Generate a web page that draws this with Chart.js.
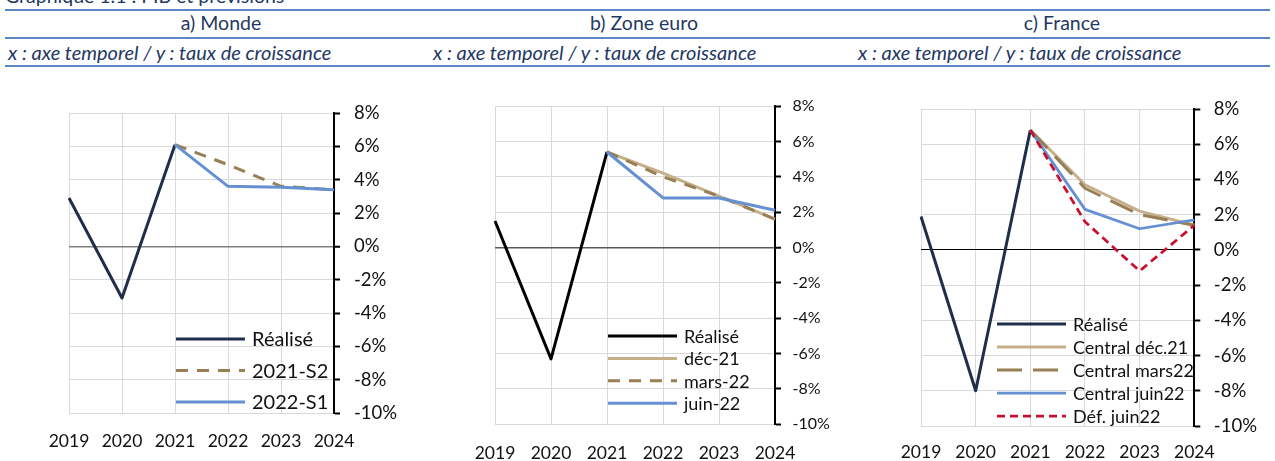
<!DOCTYPE html>
<html>
<head>
<meta charset="utf-8">
<script src="https://cdn.jsdelivr.net/npm/chart.js@4.4.1/dist/chart.umd.min.js"></script>
<style>
  body { margin:0; width:1275px; height:461px; overflow:hidden; background:#fff; position:relative; font-family:Lato, sans-serif; }
  .rule { position:absolute; left:5px; width:1265px; height:2px; background:#5b87c6; }
  .hd { position:absolute; color:#1f3864; font-size:19.5px; white-space:nowrap; line-height:22px; }
  .sub { font-style:italic; font-size:20px; }
  .panel { position:absolute; top:80px; width:425px; height:381px; }
</style>
</head>
<body>
<div class="hd" style="left:5px;top:-15px;">Graphique 1.1 : PIB et prévisions</div>
<div class="rule" style="top:9px"></div>
<div class="hd" style="left:0;width:442px;top:12px;text-align:center;">a) Monde</div>
<div class="hd" style="left:434px;width:420px;top:12px;text-align:center;">b) Zone euro</div>
<div class="hd" style="left:860px;width:404px;top:12px;text-align:center;">c) France</div>
<div class="rule" style="top:37px"></div>
<div class="hd sub" style="left:8px;top:41px;">x : axe temporel / y : taux de croissance</div>
<div class="hd sub" style="left:433px;top:41px;">x : axe temporel / y : taux de croissance</div>
<div class="hd sub" style="left:858px;top:41px;">x : axe temporel / y : taux de croissance</div>
<div class="rule" style="top:65px"></div>

<div class="panel" style="left:0"><canvas id="monde" width="425" height="381"></canvas></div>
<div class="panel" style="left:425px"><canvas id="zone" width="425" height="381"></canvas></div>
<div class="panel" style="left:850px"><canvas id="france" width="425" height="381"></canvas></div>

<script>
const years = ["2019", "2020", "2021", "2022", "2023", "2024"];

// a) Monde
const mondeRealise = [2.9, -3.1, 6.1, null, null, null];
const monde2021S2  = [null, null, 6.1, 4.9, 3.6, 3.4];
const monde2022S1  = [null, null, 6.1, 3.6, 3.55, 3.4];

// b) Zone euro
const zoneRealise = [1.5, -6.3, 5.4, null, null, null];
const zoneDec21   = [null, null, 5.4, 4.2, 2.9, 1.6];
const zoneMars22  = [null, null, 5.4, 4.0, 2.9, 1.6];
const zoneJuin22  = [null, null, 5.4, 2.8, 2.8, 2.1];

// c) France
const frRealise   = [1.9, -8.0, 6.8, null, null, null];
const frDec21     = [null, null, 6.8, 3.7, 2.2, 1.4];
const frMars22    = [null, null, 6.8, 3.5, 2.0, 1.4];
const frJuin22    = [null, null, 6.8, 2.3, 1.2, 1.7];
const frDefJuin22 = [null, null, 6.8, 1.6, -1.2, 1.4];

const yMin = -10, yMax = 8, yStep = 2;

const NAVY = "#1f2e4b", TAN = "#c6b08c", BROWN = "#987f55", BLUE = "#6590d2", RED = "#c8102e";

// legend drawn inside the plot, one row per dataset
const insideLegend = {
  id: "insideLegend",
  afterDraw(chart, args, o) {
    const ctx = chart.ctx;
    ctx.save();
    ctx.font = o.fontSize + "px Lato";
    ctx.textBaseline = "middle";
    ctx.textAlign = "left";
    chart.data.datasets.forEach((ds, i) => {
      const y = o.y + i * o.rowHeight;
      ctx.beginPath();
      ctx.strokeStyle = ds.borderColor;
      ctx.lineWidth = ds.borderWidth;
      ctx.setLineDash(ds.borderDash || []);
      ctx.moveTo(o.x, y);
      ctx.lineTo(o.x + o.lineLength, y);
      ctx.stroke();
      ctx.setLineDash([]);
      ctx.fillStyle = "#111";
      ctx.fillText(ds.label, o.x + o.lineLength + o.gap, y + 1);
    });
    ctx.restore();
  }
};

function line(label, data, color, width, dash) {
  return { label, data, borderColor: color, backgroundColor: color, borderWidth: width,
           borderDash: dash || [], pointRadius: 0, tension: 0, fill: false,
           borderJoinStyle: "round", borderCapStyle: "butt" };
}

function makeChart(id, datasets, c) {
  datasets.forEach((ds, i) => ds.order = datasets.length - i);
  new Chart(document.getElementById(id), {
    type: "line",
    data: { labels: years, datasets },
    plugins: [insideLegend],
    options: {
      responsive: false,
      animation: false,
      devicePixelRatio: 1,
      layout: { padding: c.padding },
      plugins: {
        legend: { display: false },
        tooltip: { enabled: false },
        insideLegend: c.legend
      },
      scales: {
        x: {
          offset: false,
          grid: { color: "#d9d9d9", lineWidth: 1, drawTicks: false, offset: false },
          border: { display: false },
          ticks: { color: "#111", padding: c.xPad, maxRotation: 0, autoSkip: false,
                   font: { family: "Lato", size: c.xFont } },
          afterFit: s => { s.height = c.xHeight; }
        },
        y: {
          position: "right",
          min: yMin, max: yMax,
          grid: {
            color: ctx => ctx.tick && ctx.tick.value === 0 ? c.zeroColor : "#d9d9d9",
            lineWidth: ctx => ctx.tick && ctx.tick.value === 0 ? c.zeroWidth : 1,
            tickColor: "#000", tickWidth: 2, tickLength: 6
          },
          border: { display: true, color: "#000", width: 2 },
          ticks: { stepSize: yStep, color: "#111", padding: c.yPad,
                   font: { family: "Lato", size: c.yFont },
                   callback: v => v + "%" },
          afterFit: s => { s.width = c.yWidth; }
        }
      }
    }
  });
}

makeChart("monde", [
  line("Réalisé", mondeRealise, NAVY, 3),
  line("2021-S2", monde2021S2, BROWN, 3, [12, 9]),
  line("2022-S1", monde2022S1, BLUE, 3)
], {
  padding: { left: 69, top: 33, right: 11, bottom: 0 },
  yWidth: 80, xHeight: 48, xPad: 18, yPad: 14, xFont: 17.5, yFont: 18.5,
  zeroColor: "#7f7f7f", zeroWidth: 1.5,
  legend: { x: 176, y: 259, rowHeight: 31.5, lineLength: 69, gap: 7, fontSize: 20 }
});

makeChart("zone", [
  line("Réalisé", zoneRealise, "#000", 3),
  line("déc-21", zoneDec21, TAN, 3),
  line("mars-22", zoneMars22, BROWN, 3, [12, 9]),
  line("juin-22", zoneJuin22, BLUE, 3)
], {
  padding: { left: 70, top: 26, right: 5, bottom: 0 },
  yWidth: 70, xHeight: 36.7, xPad: 18.5, yPad: 11.5, xFont: 17.5, yFont: 16,
  zeroColor: "#595959", zeroWidth: 1.5,
  legend: { x: 183, y: 256, rowHeight: 22.4, lineLength: 69, gap: 7, fontSize: 18 }
});

makeChart("france", [
  line("Réalisé", frRealise, NAVY, 3),
  line("Central déc.21", frDec21, TAN, 3),
  line("Central mars22", frMars22, BROWN, 3, [25, 11]),
  line("Central juin22", frJuin22, BLUE, 2.75),
  line("Déf. juin22", frDefJuin22, RED, 2.75, [8, 5])
], {
  padding: { left: 71, top: 29, right: 2, bottom: 0 },
  yWidth: 78.7, xHeight: 35, xPad: 15.5, yPad: 13.5, xFont: 17.5, yFont: 18.5,
  zeroColor: "#000", zeroWidth: 1,
  legend: { x: 147, y: 244, rowHeight: 23, lineLength: 69, gap: 7, fontSize: 18 }
});
</script>
</body>
</html>
